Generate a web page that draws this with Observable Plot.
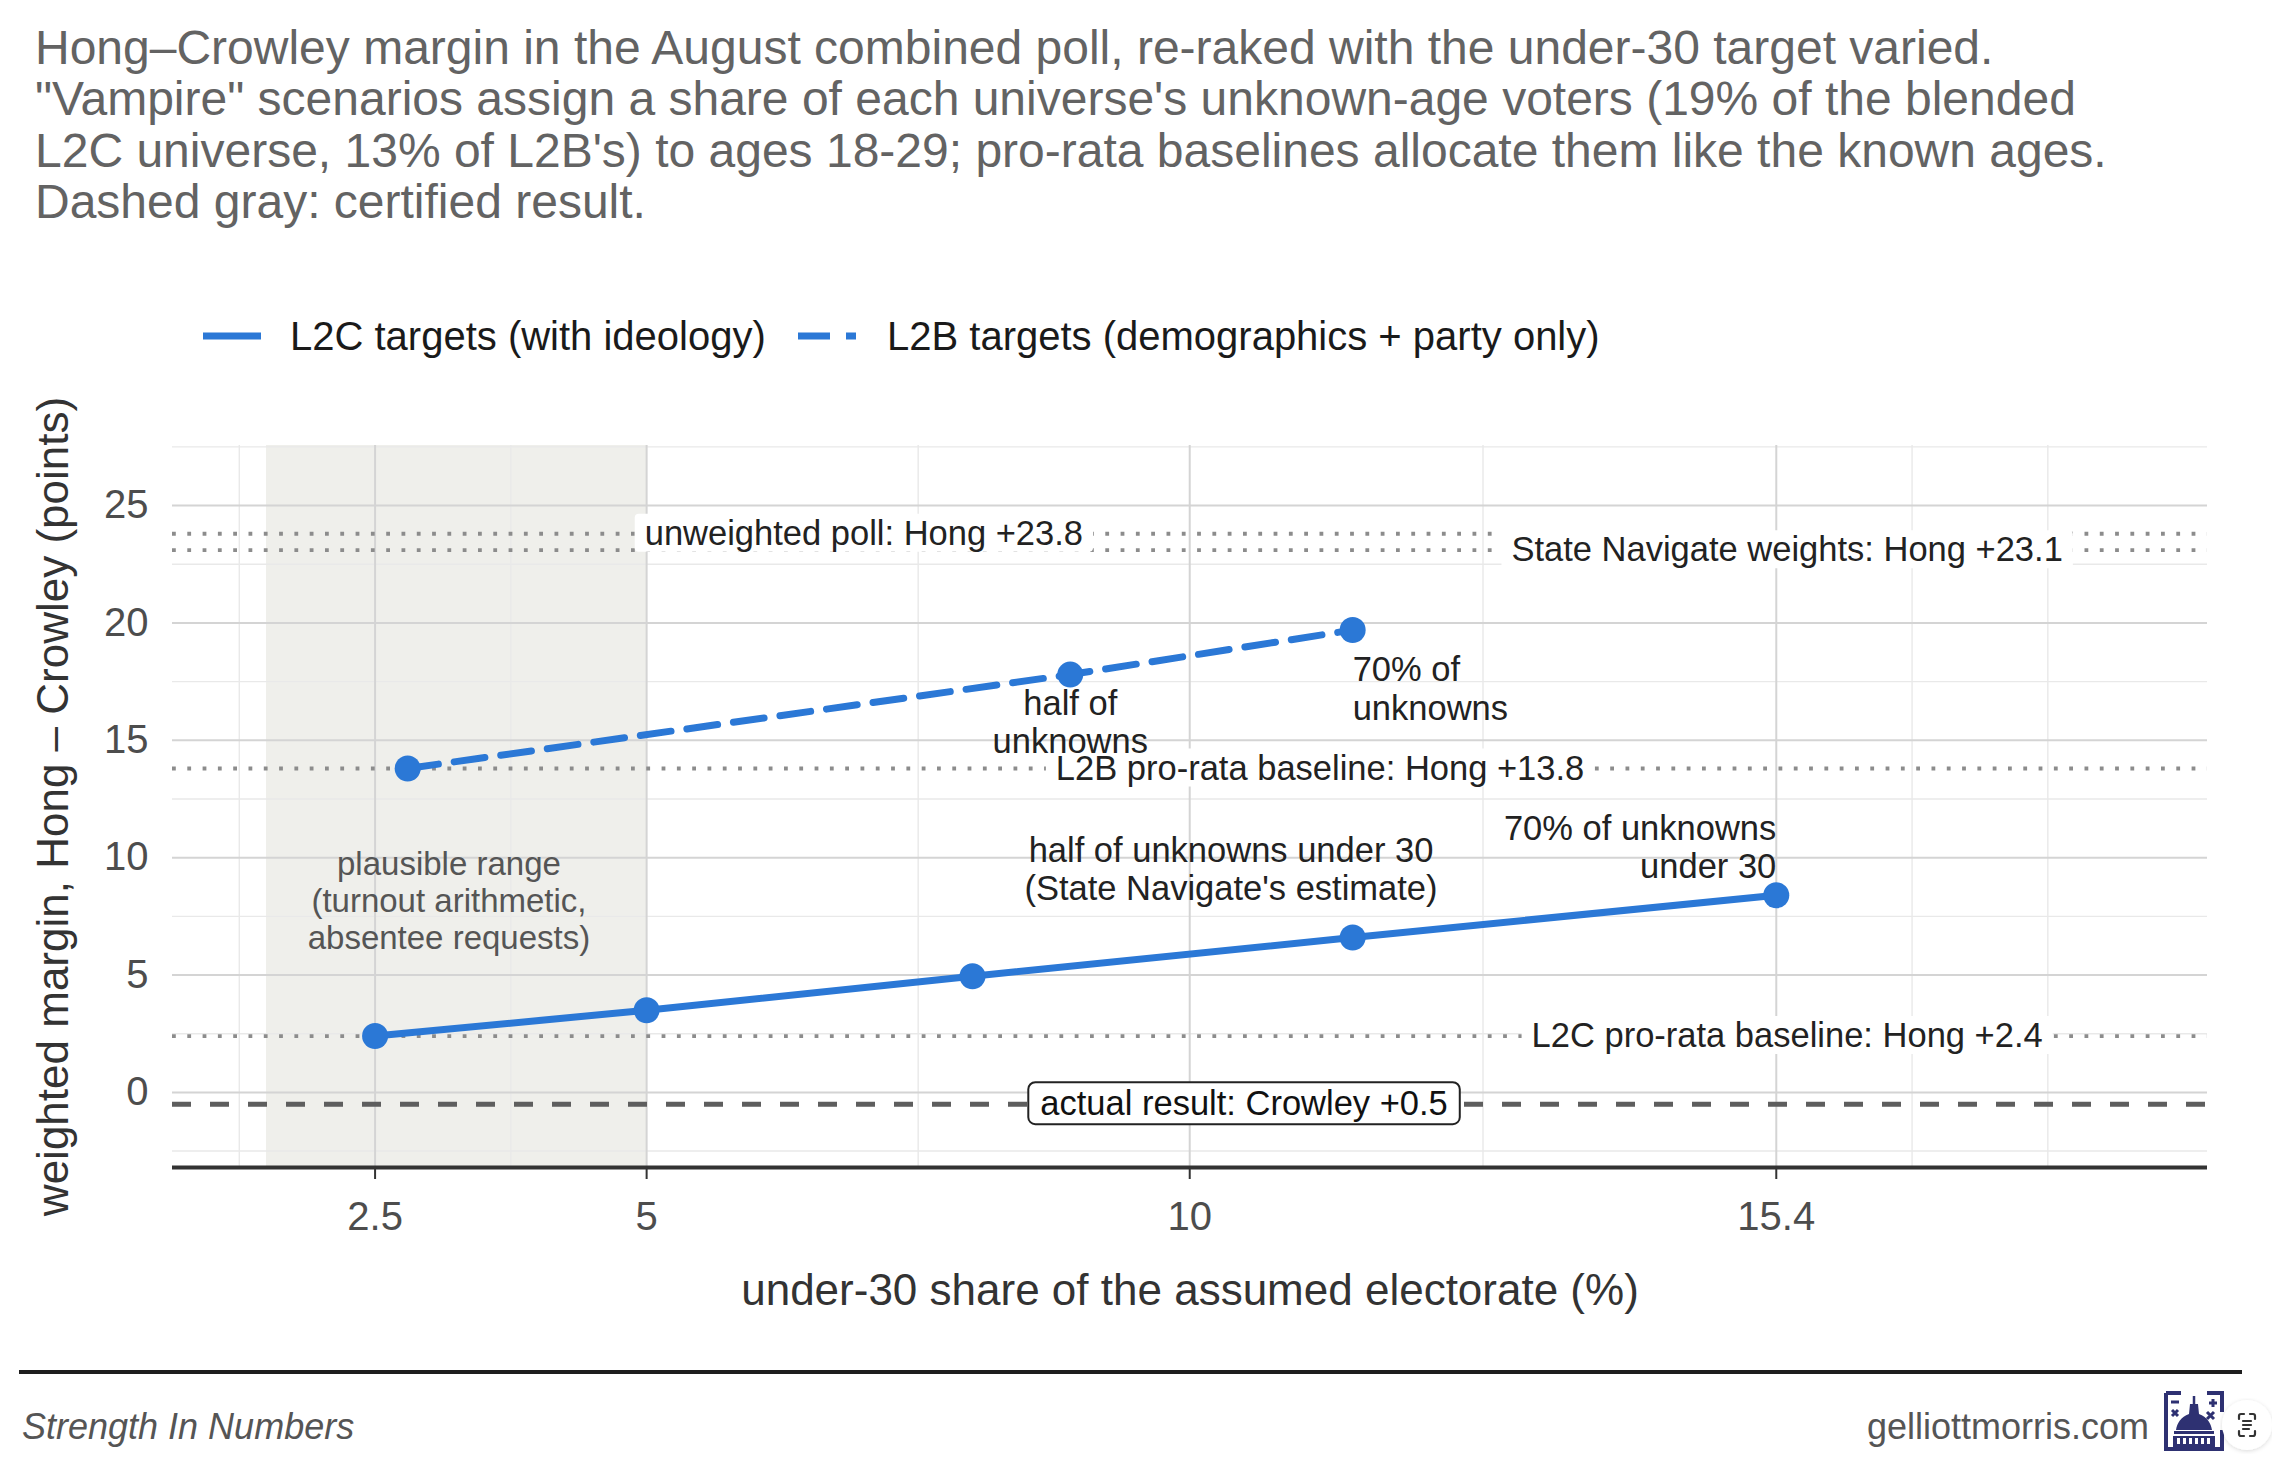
<!DOCTYPE html>
<html>
<head>
<meta charset="utf-8">
<script src="https://cdn.jsdelivr.net/npm/d3@7"></script>
<script src="https://cdn.jsdelivr.net/npm/@observablehq/plot@0.6"></script>
<style>
  html, body { margin: 0; padding: 0; background: #fff; }
  body { width: 2272px; height: 1474px; position: relative; overflow: hidden;
         font-family: "Liberation Sans", Arial, Helvetica, sans-serif; }
  #title { position: absolute; left: 35px; top: 22px; font-size: 48px; line-height: 51.3px;
           color: #636363; white-space: pre; }
  .lg-text { position: absolute; top: 312px; font-size: 40px; line-height: 48px; color: #1a1a1a; white-space: nowrap; }
  .lg-key { position: absolute; top: 326px; }
  #chart { position: absolute; left: 0; top: 380px; }
  #rule { position: absolute; left: 19px; top: 1370px; width: 2223px; height: 4px; background: #1e1e1e; }
  .foot { position: absolute; top: 1406px; font-size: 36px; line-height: 42px; color: #555; white-space: nowrap; }
</style>
</head>
<body>
<div id="title"></div>
<svg class="lg-key" style="left:203px" width="58" height="20"><line x1="0" x2="58" y1="10" y2="10" stroke="#2b78d6" stroke-width="7"/></svg>
<div class="lg-text" id="lg1" style="left:290px"></div>
<svg class="lg-key" style="left:798px" width="58" height="20"><line x1="0" x2="58" y1="10" y2="10" stroke="#2b78d6" stroke-width="7" stroke-dasharray="32,16"/></svg>
<div class="lg-text" id="lg2" style="left:887px"></div>
<div id="chart"></div>
<div id="rule"></div>
<div class="foot" id="foot-left" style="left:22px;font-style:italic"></div>
<div class="foot" id="foot-right" style="right:123px"></div>
<svg style="position:absolute;left:2163px;top:1390px" width="62" height="62" viewBox="0 0 62 62">
  <g fill="#2e3172" stroke="#2e3172">
    <path d="M3 3 H18 M3 3 V59 H59 V40" fill="none" stroke-width="4"/>
    <path d="M44 3 H59 V22" fill="none" stroke-width="4"/>
    <path d="M8 12 H16" stroke-width="3"/>
    <path d="M9 20 L15 26 M15 20 L9 26" stroke-width="3"/>
    <path d="M46 13 H54 M50 9 V17" stroke-width="3"/>
    <path d="M44 22 L51 29 M51 22 L44 29" stroke-width="3"/>
    <path d="M31 6 V14" stroke-width="2.5"/>
    <path d="M27 14 H35 L36 24 C44 27 48 33 49 40 H13 C14 33 18 27 26 24 Z" stroke="none"/>
    <rect x="11" y="41" width="40" height="3" stroke="none"/>
    <rect x="10" y="46" width="42" height="11" stroke="none"/>
  </g>
  <g fill="#fff">
    <rect x="14" y="48" width="3" height="6"/><rect x="20" y="48" width="3" height="6"/>
    <rect x="26" y="48" width="3" height="6"/><rect x="32" y="48" width="3" height="6"/>
    <rect x="38" y="48" width="3" height="6"/><rect x="44" y="48" width="3" height="6"/>
  </g>
</svg>
<svg style="position:absolute;left:2220px;top:1398px" width="52" height="56" viewBox="0 0 52 56">
  <defs><filter id="sh" x="-30%" y="-30%" width="160%" height="160%"><feDropShadow dx="0" dy="1" stdDeviation="2" flood-color="#000" flood-opacity="0.15"/></filter></defs>
  <circle cx="27" cy="27" r="25" fill="#fff" filter="url(#sh)"/>
  <g fill="none" stroke="#333" stroke-width="2.2" stroke-linecap="round">
    <path d="M19 21 V18 Q19 16 21 16 H24 M30 16 H33 Q35 16 35 18 V21 M35 33 V36 Q35 38 33 38 H30 M24 38 H21 Q19 38 19 36 V33"/>
    <path d="M23 23 H31 M23 27 H31 M23 31 H29"/>
  </g>
</svg>
<script>
// ---------------- data ----------------
const titleLines = [
  "Hong\u2013Crowley margin in the August combined poll, re-raked with the under-30 target varied.",
  "\"Vampire\" scenarios assign a share of each universe's unknown-age voters (19% of the blended",
  "L2C universe, 13% of L2B's) to ages 18-29; pro-rata baselines allocate them like the known ages.",
  "Dashed gray: certified result."
];
const legendLabels = ["L2C targets (with ideology)", "L2B targets (demographics + party only)"];
const xTitle = "under-30 share of the assumed electorate (%)";
const yTitle = "weighted margin, Hong \u2013 Crowley (points)";
const footerLeft = "Strength In Numbers";
const footerRight = "gelliottmorris.com";

const xTicks = [2.5, 5, 10, 15.4];
const xTickLabels = ["2.5", "5", "10", "15.4"];
const xMinor = [1.25, 3.75, 7.5, 12.7, 16.65, 17.9];
const yTicks = [0, 5, 10, 15, 20, 25];
const yMinor = [-2.5, 2.5, 7.5, 12.5, 17.5, 22.5, 27.5];
const xDomain = [0.635, 19.37];
const yDomain = [-3.2, 27.56];

const shadeRange = [1.5, 5];
const shadeLabel = "plausible range\n(turnout arithmetic,\nabsentee requests)";
const shadeLabelPos = [3.18, 8.17];

const l2cShare  = [2.5, 5, 8.0, 11.5, 15.4];
const l2cMargin = [2.4, 3.5, 4.95, 6.6, 8.4];
const l2bShare  = [2.8, 8.9, 11.5];
const l2bMargin = [13.8, 17.8, 19.7];

const refValues = [23.8, 23.1, 13.8, 2.4];
const refLabels = ["unweighted poll: Hong +23.8", "State Navigate weights: Hong +23.1",
                   "L2B pro-rata baseline: Hong +13.8", "L2C pro-rata baseline: Hong +2.4"];
const refLabelX = [7.0, 15.5, 11.2, 15.5];

const actualValue = -0.5;
const actualLabel = "actual result: Crowley +0.5";
const actualLabelX = 10.5;

const noteTexts  = ["half of\nunknowns", "70% of\nunknowns", "half of unknowns under 30\n(State Navigate's estimate)", "70% of unknowns\nunder 30"];
const noteX      = [8.9, 11.5, 10.38, 15.4];
const noteY      = [15.8, 17.22, 9.53, 10.48];
const noteAnchor = ["middle", "start", "middle", "end"];

// ---------------- text ----------------
document.getElementById("title").textContent = titleLines.join("\n");
document.getElementById("lg1").textContent = legendLabels[0];
document.getElementById("lg2").textContent = legendLabels[1];
document.getElementById("foot-left").textContent = footerLeft;
document.getElementById("foot-right").textContent = footerRight;

// ---------------- tables ----------------
const blue = "#2b78d6";
const l2c = l2cShare.map((x, i) => ({x, y: l2cMargin[i]}));
const l2b = l2bShare.map((x, i) => ({x, y: l2bMargin[i]}));
const refs = refValues.map((y, i) => ({y, x: refLabelX[i], text: refLabels[i]}));
const notes = noteTexts.map((text, i) => ({text, x: noteX[i], y: noteY[i], anchor: noteAnchor[i]}));
const noteMarks = ["start", "middle", "end"].map(a =>
  Plot.text(notes.filter(d => d.anchor === a), {x: "x", y: "y", text: "text", textAnchor: a, fontSize: 34.5, lineHeight: 1.11, fill: "#222"})
);

const chart = Plot.plot({
  width: 2272,
  height: 960,
  marginLeft: 172,
  marginRight: 65,
  marginTop: 65,
  marginBottom: 173,
  style: {fontFamily: "'Liberation Sans', Arial, Helvetica, sans-serif", background: "#fff"},
  x: {domain: xDomain},
  y: {domain: yDomain},
  marks: [
    Plot.rect([{x1: shadeRange[0], x2: shadeRange[1]}], {x1: "x1", x2: "x2", y1: () => yDomain[0], y2: () => yDomain[1], fill: "#efefeb"}),
    Plot.ruleX(xMinor, {stroke: "#e9e9e9", strokeWidth: 1.4}),
    Plot.ruleY(yMinor, {stroke: "#e9e9e9", strokeWidth: 1.4}),
    Plot.ruleX(xTicks, {stroke: "#d4d4d4", strokeWidth: 2}),
    Plot.ruleY(yTicks, {stroke: "#d4d4d4", strokeWidth: 2}),
    Plot.ruleY(refValues, {stroke: "#8c8c8c", strokeWidth: 3.8, strokeDasharray: "3.8,11.5"}),
    Plot.ruleY([actualValue], {stroke: "#5e5e5e", strokeWidth: 5, strokeDasharray: "19,19"}),
    Plot.ruleY([yDomain[0]], {stroke: "#333", strokeWidth: 4}),
    Plot.axisX({ticks: xTicks, tickFormat: (d) => xTickLabels[xTicks.indexOf(d)], tickSize: 12, tickPadding: 22, fontSize: 40, stroke: "#333", strokeWidth: 2, fill: "#4d4d4d", label: null}),
    Plot.axisY({ticks: yTicks, tickSize: 0, tickPadding: 24, fontSize: 40, fill: "#4d4d4d", label: null}),
    Plot.text(refs, {x: "x", y: "y", text: "text", fontSize: 34.5, fill: "#222", ariaDescription: "boxed-label"}),
    Plot.text([{x: actualLabelX, y: actualValue, text: actualLabel}], {x: "x", y: "y", text: "text", fontSize: 34.5, fill: "#111", ariaDescription: "bordered-label"}),
    Plot.line(l2c, {x: "x", y: "y", stroke: blue, strokeWidth: 7}),
    Plot.line(l2b, {x: "x", y: "y", stroke: blue, strokeWidth: 7, strokeDasharray: "31,16"}),
    Plot.dot(l2c.concat(l2b), {x: "x", y: "y", r: 13, fill: blue}),
    Plot.text([{x: shadeLabelPos[0], y: shadeLabelPos[1], text: shadeLabel}], {x: "x", y: "y", text: "text", fontSize: 33, lineHeight: 1.12, fill: "#555"}),
    ...noteMarks,
    Plot.text([xTitle], {frameAnchor: "bottom", textAnchor: "middle", lineAnchor: "middle", dy: 123, fontSize: 44, fill: "#333"}),
    Plot.text([yTitle], {frameAnchor: "left", textAnchor: "middle", lineAnchor: "middle", dx: -119, rotate: -90, fontSize: 44, fill: "#333"})
  ]
});
document.getElementById("chart").appendChild(chart);

// label backgrounds (geom_label style boxes) sized from the rendered text
const NS = "http://www.w3.org/2000/svg";
function boxLabels(desc, padX, padY, stroke, rx) {
  const groups = Array.from(chart.querySelectorAll("g")).filter(g => g.getAttribute("aria-description") === desc);
  groups.forEach(g => g.querySelectorAll("text").forEach(t => {
    const b = t.getBBox();
    const r = document.createElementNS(NS, "rect");
    r.setAttribute("x", b.x - padX);
    r.setAttribute("y", b.y - padY);
    r.setAttribute("width", b.width + 2 * padX);
    r.setAttribute("height", b.height + 2 * padY);
    r.setAttribute("fill", "#fff");
    r.setAttribute("stroke", stroke || "none");
    if (stroke) r.setAttribute("stroke-width", 2);
    r.setAttribute("rx", rx);
    const tr = t.getAttribute("transform");
    if (tr) r.setAttribute("transform", tr);
    t.parentNode.insertBefore(r, t);
  }));
}
boxLabels("boxed-label", 10, 0, null, 4);
boxLabels("bordered-label", 12, 2, "#222", 7);
</script>
</body>
</html>
